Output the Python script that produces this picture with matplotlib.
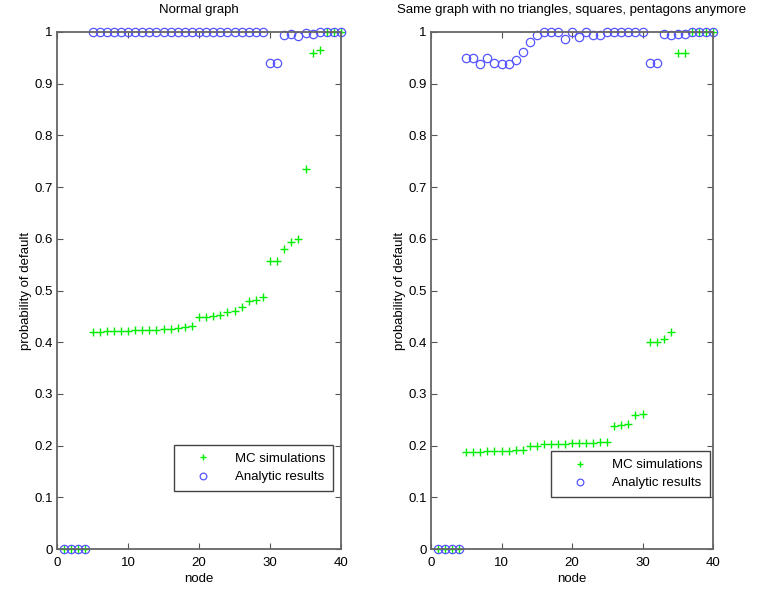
import numpy as np
import matplotlib
matplotlib.use("Agg")
import matplotlib.pyplot as plt

plt.rcParams['font.family'] = ['Liberation Sans Narrow', 'Liberation Sans', 'DejaVu Sans']

nodes = np.arange(1, 41)

# Normal graph
mc_normal = [0, 0, 0, 0,
             0.420, 0.420, 0.421, 0.421, 0.422, 0.422, 0.423, 0.423, 0.424, 0.424,
             0.425, 0.426, 0.428, 0.430, 0.431,
             0.448, 0.449, 0.451, 0.452, 0.459, 0.460, 0.469, 0.480, 0.482, 0.488,
             0.557, 0.557, 0.580, 0.593, 0.599, 0.735, 0.959, 0.966, 1.0, 1.0, 1.0]
an_normal = [0, 0, 0, 0] + [1.0] * 25 + [0.94, 0.94,
             0.995, 0.997, 0.993, 0.998, 0.996, 1.0, 1.0, 1.0, 1.0]

# no triangles, squares, pentagons
mc_clean = [0, 0, 0, 0,
            0.188, 0.188, 0.188, 0.189, 0.189, 0.190, 0.190, 0.191, 0.192,
            0.199, 0.200,
            0.203, 0.204, 0.204, 0.204, 0.205, 0.205, 0.205, 0.205, 0.206, 0.207,
            0.238, 0.240, 0.242, 0.259, 0.262,
            0.401, 0.401, 0.406, 0.420, 0.959, 0.960, 1.0, 1.0, 1.0, 1.0]
an_clean = [0, 0, 0, 0,
            0.949, 0.949, 0.939, 0.949, 0.941, 0.938, 0.938, 0.946, 0.962, 0.981,
            0.994, 1.0, 1.0, 1.0, 0.986, 1.0, 0.991, 1.0, 0.994, 0.994,
            1.0, 1.0, 1.0, 1.0, 1.0, 1.0,
            0.941, 0.941, 0.996, 0.995, 0.997, 0.996, 1.0, 1.0, 1.0, 1.0]

titles = ["Normal graph", "Same graph with no triangles, squares, pentagons anymore"]
yticks = [0, 0.1, 0.2, 0.3, 0.4, 0.5, 0.6, 0.7, 0.8, 0.9, 1]

fig = plt.figure(figsize=(7.69, 5.92), dpi=100)
W, H = 769, 592
boxes = [(57, 32, 341, 549), (431, 32, 713, 549)]
legend_pos = [(0.972, 0.112), (0.99, 0.10)]

for i, (mc, an) in enumerate([(mc_normal, an_normal), (mc_clean, an_clean)]):
    x0, y0, x1, y1 = boxes[i]
    ax = fig.add_axes([x0 / W, 1 - y1 / H, (x1 - x0) / W, (y1 - y0) / H])
    ax.plot(nodes, mc, linestyle='none', marker='+', color='#00ee00',
            markersize=6, markeredgewidth=1.0, label='MC simulations', clip_on=False)
    ax.plot(nodes, an, linestyle='none', marker='o', markerfacecolor='none',
            markeredgecolor='#5555ff', markersize=6, markeredgewidth=0.9,
            label='Analytic results', clip_on=False)
    ax.set_xlim(0, 40)
    ax.set_ylim(0, 1)
    ax.set_xticks([0, 10, 20, 30, 40])
    ax.set_yticks(yticks)
    ax.set_yticklabels(['%g' % v for v in yticks])
    ax.tick_params(direction='in', top=True, right=True, length=4,
                   color='#555555', labelsize=9.5)
    ax.tick_params(axis='x', pad=6)
    ax.tick_params(axis='y', pad=3)
    for s in ax.spines.values():
        s.set_color('#666666')
        s.set_linewidth(1.3)
    ax.set_title(titles[i], fontsize=9.5, pad=14)
    ax.set_xlabel('node', fontsize=9.5, labelpad=3)
    ax.set_ylabel('probability of default', fontsize=9.5, labelpad=2)
    leg = ax.legend(loc='lower right', bbox_to_anchor=legend_pos[i], fontsize=9.5,
                    fancybox=False, edgecolor='#444444', framealpha=1,
                    handlelength=3.2, handletextpad=0.8, markerscale=0.8,
                    borderpad=0.6, labelspacing=0.45, borderaxespad=0)
    leg.get_frame().set_linewidth(1.0)

fig.savefig('out.png', dpi=100)
